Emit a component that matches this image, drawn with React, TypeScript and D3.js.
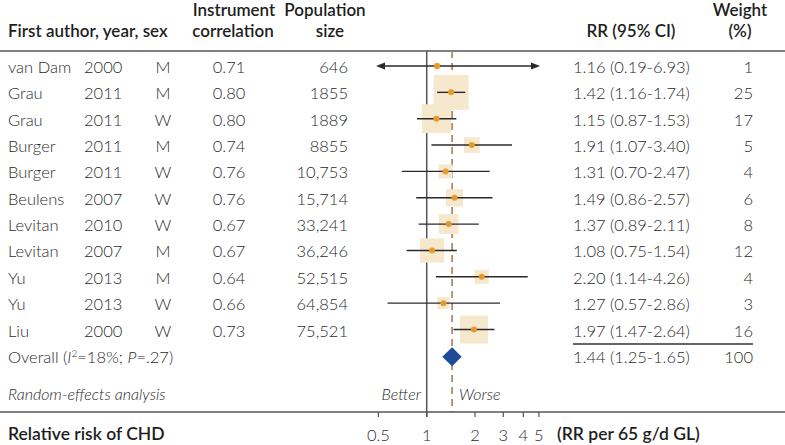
import React from "react";
import * as d3 from "d3";

const authors = ["van Dam", "Grau", "Grau", "Burger", "Burger", "Beulens", "Levitan", "Levitan", "Yu", "Yu", "Liu"];
const years = [2000, 2011, 2011, 2011, 2011, 2007, 2010, 2007, 2013, 2013, 2000];
const sexes = ["M", "M", "W", "M", "W", "W", "W", "M", "M", "W", "W"];
const correlations = [0.71, 0.8, 0.8, 0.74, 0.76, 0.76, 0.67, 0.67, 0.64, 0.66, 0.73];
const populations = [646, 1855, 1889, 8855, 10753, 15714, 33241, 36246, 52515, 64854, 75521];
const rr = [1.16, 1.42, 1.15, 1.91, 1.31, 1.49, 1.37, 1.08, 2.2, 1.27, 1.97];
const ciLow = [0.19, 1.16, 0.87, 1.07, 0.7, 0.86, 0.89, 0.75, 1.14, 0.57, 1.47];
const ciHigh = [6.93, 1.74, 1.53, 3.4, 2.47, 2.57, 2.11, 1.54, 4.26, 2.86, 2.64];
const weights = [1, 25, 17, 5, 4, 6, 8, 12, 4, 3, 16];
const overall = { rr: 1.44, lo: 1.25, hi: 1.65, weight: 100 };
const axisTicks = [0.5, 1, 2, 3, 4, 5];
const clipRange = [0.483, 5.08];

const FONT = "Lato, 'Open Sans', sans-serif";

export default function App() {
  const x = d3.scaleLog().domain([0.5, 5]).range([378.4, 538.9]);
  const size = d3.scaleSqrt().domain([0, 25]).range([0, 35]);
  const rowY = (i: number) => 66 + i * 26.35;
  const f2 = d3.format(".2f");
  const popFmt = (n: number) => (n >= 10000 ? d3.format(",")(n) : String(n));
  const textCol = "#2b2b2b";
  const headCol = "#1e1e1e";
  const lineCol = "#555";
  const yTop = 51;
  const yAxis = 412;
  const overallY = rowY(11) + 1;
  const dataSize = 16.5;
  const dataWeight = 300;
  const headWeight = 600;

  return (
    <svg width={785} height={445} style={{ position: "absolute", left: 0, top: 0, fontFamily: FONT }}>
      <rect x={0} y={0} width={785} height={445} fill="#fff" />
      {/* headers */}
      <g fontWeight={headWeight} fontSize={17} fill={headCol}>
        <text x={8} y={37}>First author, year, sex</text>
        <text x={234} y={16} textAnchor="middle">Instrument</text>
        <text x={233} y={37} textAnchor="middle">correlation</text>
        <text x={325} y={16} textAnchor="middle">Population</text>
        <text x={330} y={37} textAnchor="middle">size</text>
        <text x={631} y={37} textAnchor="middle">RR (95% CI)</text>
        <text x={740} y={16} textAnchor="middle">Weight</text>
        <text x={740} y={37} textAnchor="middle">(%)</text>
      </g>
      <line x1={0} x2={785} y1={yTop} y2={yTop} stroke={lineCol} strokeWidth={1.6} />

      {/* reference lines */}
      <line x1={x(1)} x2={x(1)} y1={yTop} y2={yAxis + 5} stroke={lineCol} strokeWidth={1.5} />
      <line
        x1={x(overall.rr)}
        x2={x(overall.rr)}
        y1={yTop}
        y2={yAxis}
        stroke="#b08a6a"
        strokeWidth={1.8}
        strokeDasharray="7,5"
      />

      {/* rows */}
      {authors.map((a, i) => {
        const y = rowY(i);
        const s = size(weights[i]);
        const lo = Math.max(ciLow[i], clipRange[0]);
        const hi = Math.min(ciHigh[i], clipRange[1]);
        const leftArrow = ciLow[i] < clipRange[0];
        const rightArrow = ciHigh[i] > clipRange[1];
        const tb = y + 7;
        return (
          <g key={i}>
            <g fontSize={dataSize} fontWeight={dataWeight} fill={textCol}>
              <text x={8} y={tb}>{a}</text>
              <text x={84} y={tb}>{years[i]}</text>
              <text x={163} y={tb} textAnchor="middle">{sexes[i]}</text>
              <text x={229} y={tb} textAnchor="middle">{f2(correlations[i])}</text>
              <text x={348} y={tb} textAnchor="end">{popFmt(populations[i])}</text>
              <text x={573} y={tb}>{`${f2(rr[i])} (${f2(ciLow[i])}-${f2(ciHigh[i])})`}</text>
              <text x={753} y={tb} textAnchor="end">{weights[i]}</text>
            </g>
            <rect x={x(rr[i]) - s / 2} y={y - s / 2} width={s} height={s} fill="#f6e8cc" />
            <line x1={x(lo) + (leftArrow ? 4 : 0)} x2={x(hi) - (rightArrow ? 4 : 0)} y1={y} y2={y} stroke="#2a2a2a" strokeWidth={1.4} />
            {leftArrow && (
              <path d={`M${x(lo)},${y}L${x(lo) + 9},${y - 3.5}L${x(lo) + 9},${y + 3.5}Z`} fill="#2a2a2a" />
            )}
            {rightArrow && (
              <path d={`M${x(hi)},${y}L${x(hi) - 9},${y - 3.5}L${x(hi) - 9},${y + 3.5}Z`} fill="#2a2a2a" />
            )}
            <circle cx={x(rr[i])} cy={y} r={3} fill="#e69a2c" />
          </g>
        );
      })}

      {/* overall */}
      <line x1={573} x2={753} y1={344} y2={344} stroke="#666" strokeWidth={1.8} />
      <text x={8} y={overallY + 6} fontSize={dataSize} fontWeight={dataWeight} fill={textCol}>
        Overall (<tspan fontStyle="italic">I</tspan>
        <tspan dy={-6} fontSize={10}>2</tspan>
        <tspan dy={6}>=18%; </tspan>
        <tspan fontStyle="italic">P</tspan>=.27)
      </text>
      <text x={573} y={overallY + 6} fontSize={dataSize} fontWeight={dataWeight} fill={textCol}>
        {`${f2(overall.rr)} (${f2(overall.lo)}-${f2(overall.hi)})`}
      </text>
      <text x={753} y={overallY + 6} fontSize={dataSize} fontWeight={dataWeight} fill={textCol} textAnchor="end">
        {overall.weight}
      </text>
      <path
        d={`M${x(overall.lo)},${overallY}L${x(overall.rr)},${overallY - 9.5}L${x(overall.hi)},${overallY}L${x(overall.rr)},${overallY + 9.5}Z`}
        fill="#1f4a99"
      />

      {/* footer labels */}
      <g fontSize={16} fontStyle="italic" fontWeight={dataWeight} fill={textCol}>
        <text x={8} y={400}>Random-effects analysis</text>
        <text x={421} y={400} textAnchor="end">Better</text>
        <text x={459} y={400}>Worse</text>
      </g>

      {/* axis */}
      <line x1={0} x2={785} y1={yAxis} y2={yAxis} stroke={lineCol} strokeWidth={1.6} />
      {axisTicks.map((t) => (
        <g key={t}>
          <line x1={x(t)} x2={x(t)} y1={yAxis} y2={yAxis + 5} stroke={lineCol} strokeWidth={1.2} />
          <text x={x(t)} y={441} fontSize={dataSize} fontWeight={dataWeight} fill={textCol} textAnchor="middle">
            {String(t)}
          </text>
        </g>
      ))}
      <g fontWeight={headWeight} fontSize={17.5} fill={headCol}>
        <text x={8} y={440}>Relative risk of CHD</text>
        <text x={557} y={440}>(RR per 65 g/d GL)</text>
      </g>
    </svg>
  );
}
